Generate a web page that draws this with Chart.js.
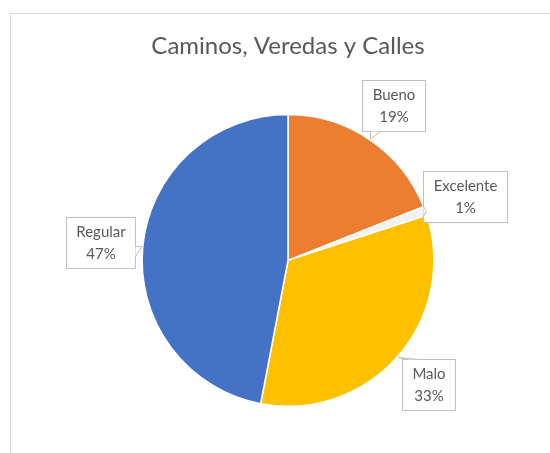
<!DOCTYPE html>
<html>
<head>
<meta charset="utf-8">
<script src="https://cdn.jsdelivr.net/npm/chart.js@4"></script>
<style>
  html, body { margin: 0; padding: 0; background: #fff; }
  body { width: 550px; height: 453px; overflow: hidden; position: relative; }
  .frame {
    position: absolute; left: 10px; top: 13px; width: 600px; height: 500px;
    border-left: 1px solid #d9d9d9; border-top: 1px solid #d9d9d9;
  }
  #chart { position: absolute; left: 0; top: 0; }
</style>
</head>
<body>
<div class="frame"></div>
<canvas id="chart" width="550" height="453"></canvas>
<script>
const title = 'Caminos, Veredas y Calles';
const categories = ['Bueno', 'Excelente', 'Malo', 'Regular'];
const percentages = [19, 1, 33, 47];
const colors = ['#ED7D31', '#F2F2F2', '#FFC000', '#4472C4'];

const FONT = 'Lato, "Open Sans", sans-serif';
const TEXT_COLOR = '#595959';

// callout boxes with a small pointer tail, placed outside each slice
const calloutLabels = {
  id: 'calloutLabels',
  afterDatasetsDraw(chart) {
    const ctx = chart.ctx;
    const meta = chart.getDatasetMeta(0);
    ctx.save();
    ctx.font = '15px ' + FONT;
    meta.data.forEach((arc, i) => {
      const mid = (arc.startAngle + arc.endAngle) / 2;
      const r = arc.outerRadius;
      const dist = r + 42;
      const cx = arc.x + Math.cos(mid) * dist;
      const cy = arc.y + Math.sin(mid) * dist;
      const lines = [chart.data.labels[i], chart.data.datasets[0].data[i] + '%'];
      const w = Math.round(Math.max(...lines.map(l => ctx.measureText(l).width)) + 20);
      const h = 51;
      const left = Math.round(cx - w / 2) + 0.5;
      const top = Math.round(cy - h / 2) + 0.5;
      const right = left + w, bottom = top + h;
      const tip = { x: arc.x + Math.cos(mid) * (r + 1), y: arc.y + Math.sin(mid) * (r + 1) };

      // base of the tail on the box side that faces the slice
      let b1, b2;
      const clamp = (v, a, c) => Math.min(Math.max(v, a), c);
      if (tip.y > bottom || tip.y < top) {
        const y = tip.y > bottom ? bottom : top;
        const x = clamp(tip.x, left + 6, right - 16);
        b1 = { x: x, y: y }; b2 = { x: x + 10, y: y };
      } else {
        const x = tip.x < cx ? left : right;
        const y = clamp(tip.y, top + 6, bottom - 16);
        b1 = { x: x, y: y }; b2 = { x: x, y: y + 10 };
      }

      ctx.fillStyle = '#ffffff';
      ctx.strokeStyle = '#bfbfbf';
      ctx.lineWidth = 1;
      ctx.fillRect(left, top, w, h);
      ctx.strokeRect(left, top, w, h);
      ctx.beginPath();
      ctx.moveTo(b1.x, b1.y);
      ctx.lineTo(tip.x, tip.y);
      ctx.lineTo(b2.x, b2.y);
      ctx.closePath();
      ctx.fill();
      ctx.beginPath();
      ctx.moveTo(b1.x, b1.y);
      ctx.lineTo(tip.x, tip.y);
      ctx.lineTo(b2.x, b2.y);
      ctx.stroke();

      ctx.fillStyle = TEXT_COLOR;
      ctx.textAlign = 'center';
      ctx.textBaseline = 'middle';
      ctx.fillText(lines[0], left + w / 2, top + 15);
      ctx.fillText(lines[1], left + w / 2, top + 37);
    });
    ctx.restore();
  }
};

new Chart(document.getElementById('chart'), {
  type: 'pie',
  data: {
    labels: categories,
    datasets: [{
      data: percentages,
      backgroundColor: colors,
      borderColor: '#ffffff',
      borderWidth: 1.5
    }]
  },
  options: {
    responsive: false,
    animation: false,
    layout: {
      padding: { top: 20, left: 30, right: 4, bottom: 46 }
    },
    plugins: {
      legend: { display: false },
      tooltip: { enabled: false },
      title: {
        display: true,
        text: title,
        color: TEXT_COLOR,
        font: { family: FONT, size: 24, weight: 'normal' },
        padding: { top: 12, bottom: 53 }
      }
    }
  },
  plugins: [calloutLabels]
});
</script>
</body>
</html>
